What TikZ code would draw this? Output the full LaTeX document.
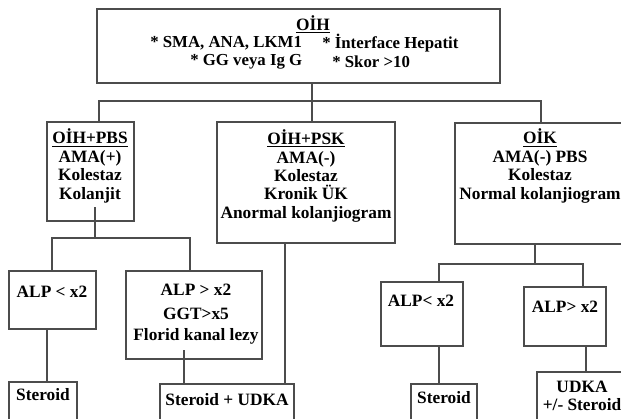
\documentclass[tikz,border=0pt]{standalone}
\usepackage{fontspec}
\setmainfont{Liberation Serif}
\usetikzlibrary{fit}

\tikzset{
  box/.style={draw=black!70,line width=1.1pt,inner sep=0pt},
  txt/.style={font=\fontsize{13}{13.8}\selectfont\bfseries,align=center,inner sep=0pt},
  crit/.style={font=\fontsize{12.6}{13}\selectfont\bfseries,inner sep=0pt,anchor=west},
  wire/.style={black!70,line width=1.1pt}
}

\begin{document}
\begin{tikzpicture}[x=0.75pt,y=-0.75pt]
  \useasboundingbox (0,0) rectangle (621,418);
  \clip (0,0) rectangle (621,418);
  % top box
  \node[box,fit={(97,9) (500,83)}] (oih) {};
  \node[txt] (oihT) at (313,24) {\underline{OİH}};
  \node[crit] (crA) at (150,43) {* SMA, ANA, LKM1};
  \node[crit] (crB) at (322,43) {* İnterface Hepatit};
  \node[crit] (crC) at (190,62) {* GG veya Ig G};
  \node[crit] (crD) at (332,62) {* Skor >10};
  % second level
  \node[box,fit={(47,122) (134,221)}] (pbs) {};
  \node[txt] (pbsT) at (90,166) {\underline{OİH+PBS}\\AMA(+)\\Kolestaz\\Kolanjit};
  \node[box,fit={(217,122) (395,243)}] (psk) {};
  \node[txt] (pskT) at (306,176) {\underline{OİH+PSK}\\AMA(-)\\Kolestaz\\Kronik ÜK\\Anormal kolanjiogram};
  \node[box,fit={(455,123) (628,244)}] (oik) {};
  \node[txt] (oikT) at (540,166) {\underline{OİK}\\AMA(-) PBS\\Kolestaz\\Normal kolanjiogram};
  % third level
  \node[box,fit={(9,271) (96,329)}] (alpA) {};
  \node[txt] (alpAT) at (52,292) {ALP < x2};
  \node[box,fit={(126,271) (262,359)}] (alpB) {};
  \node[txt] (alpBT) at (196,314) {ALP > x2\\[4pt]GGT>x5\\[2pt]Florid kanal lezy};
  \node[box,fit={(381,282) (463,346)}] (alpC) {};
  \node[txt] (alpCT) at (421,301) {ALP< x2};
  \node[box,fit={(524,287) (606,346)}] (alpD) {};
  \node[txt] (alpDT) at (565,307) {ALP> x2};
  % treatments
  \node[box,fit={(9,382) (77,440)}] (strA) {};
  \node[txt] (strAT) at (43,395) {Steroid};
  \node[box,fit={(160,384) (294,440)}] (sudka) {};
  \node[txt] (sudkaT) at (227,400) {Steroid + UDKA};
  \node[box,fit={(411,384) (477,440)}] (strB) {};
  \node[txt] (strBT) at (444,398) {Steroid};
  \node[box,fit={(537,372) (630,440)}] (udka) {};
  \node[txt] (udkaT) at (582,396) {UDKA\\+/- Steroid};
  % connectors
  \coordinate (busL) at (99,101);
  \coordinate (busM) at (312,101);
  \coordinate (busR) at (541,101);
  \draw[wire] (pbs.north -| busL) -- (busL) -- (busR) -- (oik.north -| busR);
  \draw[wire] (oih.south -| busM) -- (psk.north -| busM);
  \coordinate (pbsOut) at (95,207);
  \coordinate (busA) at (52,238);
  \coordinate (busB) at (190,238);
  \draw[wire] (pbsOut) -- (pbsOut |- busA);
  \draw[wire] (alpA.north -| busA) -- (busA) -- (busB) -- (alpB.north -| busB);
  \coordinate (xA) at (47,0);
  \draw[wire] (alpA.south -| xA) -- (strA.north -| xA);
  \coordinate (alpBOut) at (184,350);
  \draw[wire] (alpBOut) -- (alpBOut |- sudka.north);
  \coordinate (xP) at (285,0);
  \draw[wire] (psk.south -| xP) -- (sudka.north -| xP);
  \coordinate (busO) at (535,264);
  \coordinate (busC) at (439,264);
  \coordinate (busD) at (583,264);
  \draw[wire] (oik.south -| busO) -- (busO);
  \draw[wire] (alpC.north -| busC) -- (busC) -- (busD) -- (alpD.north -| busD);
  \draw[wire] (alpC.south -| busC) -- (strB.north -| busC);
  \coordinate (xD) at (586,0);
  \draw[wire] (alpD.south -| xD) -- (udka.north -| xD);
\end{tikzpicture}
\end{document}
